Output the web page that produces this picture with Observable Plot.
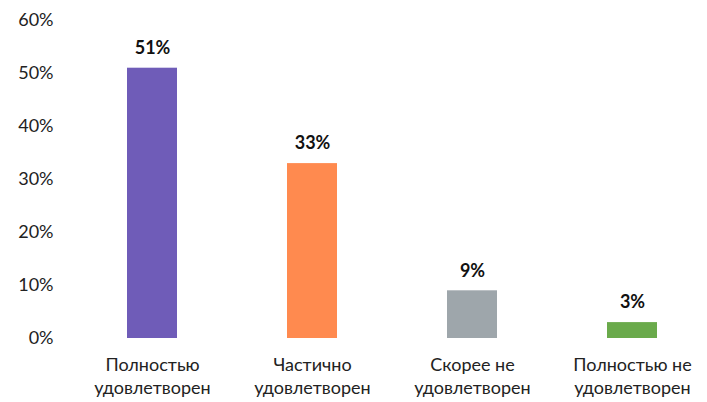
<!DOCTYPE html>
<html><head><meta charset="utf-8">
<script src="https://cdn.jsdelivr.net/npm/d3@7"></script>
<script src="https://cdn.jsdelivr.net/npm/@observablehq/plot@0.6"></script>
<style>body{margin:0;background:#fff;} svg{font-family:Lato,"Open Sans",sans-serif;}</style>
</head><body><div id="chart"></div>
<script>
const categories = ["Полностью\nудовлетворен", "Частично\nудовлетворен", "Скорее не\nудовлетворен", "Полностью не\nудовлетворен"];
const values = [51, 33, 9, 3];
const colors = ["#6f5cb8", "#ff8a4f", "#9ea6ab", "#6aaa4b"];
const yTicks = [0, 10, 20, 30, 40, 50, 60];

const data = categories.map((c, i) => ({cat: c, value: values[i], color: colors[i]}));

const chart = Plot.plot({
  width: 707,
  height: 402,
  marginLeft: 87,
  marginRight: 10,
  marginTop: 20,
  marginBottom: 64,
  style: {fontFamily: "Lato, 'Open Sans', sans-serif", fontSize: "18px", color: "#222", background: "#fff"},
  x: {domain: categories, paddingInner: 0.6875, paddingOuter: 0.25, axis: null},
  y: {domain: [0, 60], axis: null},
  marks: [
    Plot.axisY({ticks: yTicks, label: null, tickSize: 0, tickPadding: 34, tickFormat: d => d + "%", fontSize: 18, fill: "#222"}),
    Plot.barY(data, {x: "cat", y: "value", fill: "color"}),
    Plot.text(data, {x: "cat", y: "value", text: d => d.value + "%", dy: -20, fontWeight: "bold", fontSize: 18, fill: "#111"}),
    Plot.text(data, {x: "cat", text: "cat", frameAnchor: "bottom", lineAnchor: "top", dy: 17, lineHeight: 1.25, fontSize: 18, fill: "#222"})
  ]
});
document.getElementById("chart").appendChild(chart);
</script>
</body></html>
